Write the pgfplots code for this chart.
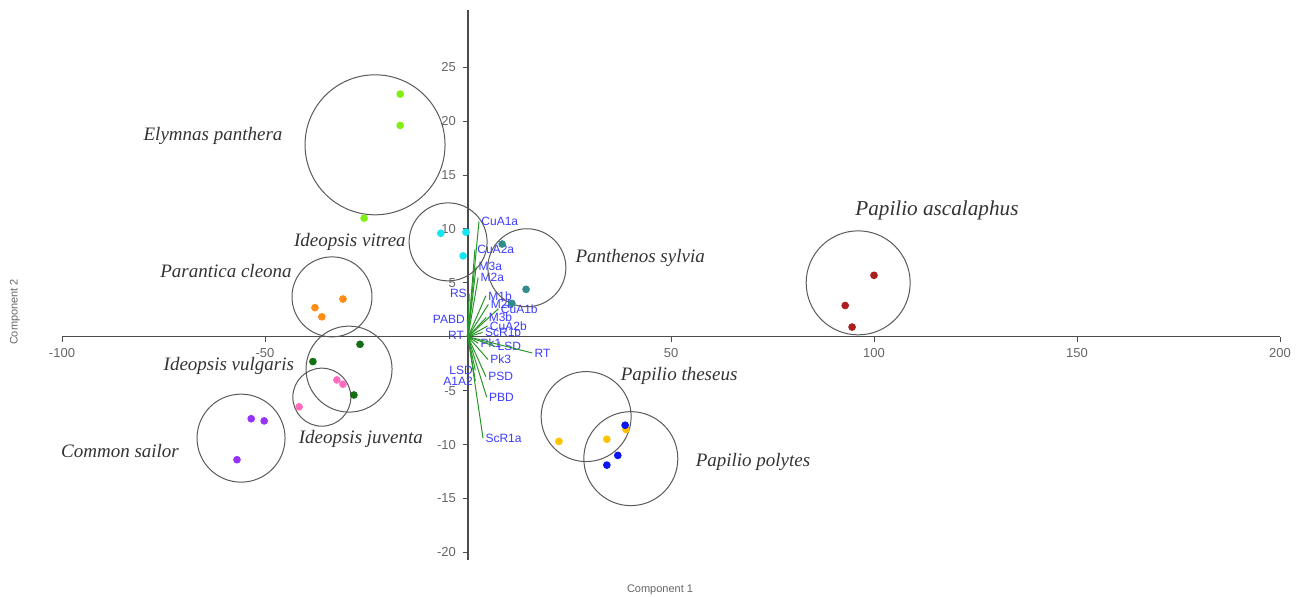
\documentclass[border=0pt]{standalone}
\usepackage{pgfplots}
\pgfplotsset{compat=1.18}
\usepackage{fontspec}
\setmainfont{Liberation Sans}
\newfontfamily\spfont{Liberation Serif}
\usetikzlibrary{calc}
\definecolor{cLime}{RGB}{128,240,20}
\definecolor{cCyan}{RGB}{20,230,240}
\definecolor{cTeal}{RGB}{50,140,140}
\definecolor{cOrange}{RGB}{255,140,20}
\definecolor{cDkGreen}{RGB}{20,110,20}
\definecolor{cPink}{RGB}{255,110,190}
\definecolor{cPurple}{RGB}{150,50,250}
\definecolor{cGold}{RGB}{255,195,0}
\definecolor{cBlue}{RGB}{10,20,245}
\definecolor{cRed}{RGB}{170,30,30}
\definecolor{vecGreen}{RGB}{40,150,40}
\definecolor{vecBlue}{RGB}{60,60,255}
\tikzset{
  vec/.style={vecGreen, line width=0.5pt},
  vl/.style={text=vecBlue, font=\fontsize{6}{6}\selectfont, inner sep=1pt},
  sp/.style={text=black!80, font=\spfont\itshape\fontsize{9.5}{10}\selectfont},
  circ/.style={only marks, mark=o, mark options={black!65, line width=0.5pt}},
  pt/.style={only marks, mark=*, mark size=1.7pt},
}
\begin{document}
\begin{tikzpicture}
\begin{axis}[name=ax, scale only axis, width=609pt, height=275pt,
  xmin=-100, xmax=200, ymin=-20.7, ymax=30.3,
  axis lines=middle, axis line style={-, black!70, line width=0.7pt},
  xtick={-100,-50,50,100,150,200}, ytick={-20,-15,-10,-5,5,10,15,20,25},
  tick align=outside, major tick length=2.5pt,
  tick style={black!70, line width=0.5pt},
  ticklabel style={font=\fontsize{6.5}{7}\selectfont, text=black!60},
  /pgf/number format/assume math mode=true,
  clip=false,
]
% circles
\addplot[circ, mark size=35pt] coordinates {(-22.9,17.8)};
\addplot[circ, mark size=19.5pt] coordinates {(-4.9,8.8)};
\addplot[circ, mark size=19.5pt] coordinates {(14.5,6.4)};
\addplot[circ, mark size=20pt] coordinates {(-33.5,3.7)};
\addplot[circ, mark size=21.5pt] coordinates {(-29.3,-3.0)};
\addplot[circ, mark size=14.5pt] coordinates {(-36.0,-5.6)};
\addplot[circ, mark size=22pt] coordinates {(-55.9,-9.4)};
\addplot[circ, mark size=22.5pt] coordinates {(29.1,-7.4)};
\addplot[circ, mark size=23.5pt] coordinates {(40.1,-11.3)};
\addplot[circ, mark size=26pt] coordinates {(96.1,5.0)};
% loading vectors
\addplot[vec] coordinates {(0,0) (2.7,10.7)} node[vl, anchor=west] {CuA1a};
\addplot[vec] coordinates {(0,0) (1.7,8.1)} node[vl, anchor=west] {CuA2a};
\addplot[vec] coordinates {(0,0) (2.0,6.5)} node[vl, anchor=west] {M3a};
\addplot[vec] coordinates {(0,0) (2.5,5.5)} node[vl, anchor=west] {M2a};
\addplot[vec] coordinates {(0,0) (0.3,4.0)} node[vl, anchor=east] {RS};
\addplot[vec] coordinates {(0,0) (4.4,3.8)} node[vl, anchor=west] {M1b};
\addplot[vec] coordinates {(0,0) (5.0,3.0)} node[vl, anchor=west] {M2b};
\addplot[vec] coordinates {(0,0) (7.5,2.6)} node[vl, anchor=west] {CuA1b};
\addplot[vec] coordinates {(0,0) (4.5,1.8)} node[vl, anchor=west] {M3b};
\addplot[vec] coordinates {(0,0) (4.8,1.0)} node[vl, anchor=west] {CuA2b};
\addplot[vec] coordinates {(0,0) (3.6,0.4)} node[vl, anchor=west] {ScR1b};
\addplot[vec] coordinates {(0,0) (-0.2,1.6)} node[vl, anchor=east] {PABD};
\addplot[vec] coordinates {(0,0) (-0.4,0.1)} node[vl, anchor=east] {RT};
\addplot[vec] coordinates {(0,0) (2.5,-0.6)} node[vl, anchor=west] {Pk1};
\addplot[vec] coordinates {(0,0) (6.7,-0.9)} node[vl, anchor=west] {LSD};
\addplot[vec] coordinates {(0,0) (15.8,-1.5)} node[vl, anchor=west] {RT};
\addplot[vec] coordinates {(0,0) (4.9,-2.1)} node[vl, anchor=west] {Pk3};
\addplot[vec] coordinates {(0,0) (4.4,-3.7)} node[vl, anchor=west] {PSD};
\addplot[vec] coordinates {(0,0) (1.8,-3.1)} node[vl, anchor=east] {LSD};
\addplot[vec] coordinates {(0,0) (1.8,-4.1)} node[vl, anchor=east] {A1A2};
\addplot[vec] coordinates {(0,0) (4.6,-5.6)} node[vl, anchor=west] {PBD};
\addplot[vec] coordinates {(0,0) (3.7,-9.4)} node[vl, anchor=west] {ScR1a};
% species points
\addplot[pt, color=cLime] coordinates {(-16.7,22.5) (-16.7,19.6) (-25.6,11.0)};
\addplot[pt, color=cCyan] coordinates {(-6.7,9.6) (-0.5,9.7) (-1.2,7.5)};
\addplot[pt, color=cTeal] coordinates {(14.3,4.4) (8.4,8.6) (10.8,3.1)};
\addplot[pt, color=cOrange] coordinates {(-37.7,2.7) (-36.0,1.85) (-30.8,3.5)};
\addplot[pt, color=cDkGreen] coordinates {(-26.6,-0.7) (-38.2,-2.3) (-28.1,-5.4)};
\addplot[pt, color=cPink] coordinates {(-32.3,-4.0) (-30.8,-4.4) (-41.6,-6.5)};
\addplot[pt, color=cPurple] coordinates {(-53.4,-7.6) (-50.2,-7.8) (-56.9,-11.4)};
\addplot[pt, color=cGold] coordinates {(22.4,-9.7) (34.2,-9.5) (38.9,-8.6)};
\addplot[pt, color=cBlue] coordinates {(38.7,-8.2) (36.9,-11.0) (34.2,-11.9)};
\addplot[pt, color=cRed] coordinates {(100.0,5.7) (92.9,2.9) (94.6,0.9)};
% species labels
\node[sp] at (axis cs:-62.8,18.6) {Elymnas panthera};
\node[sp] at (axis cs:-29.1,8.8) {Ideopsis vitrea};
\node[sp] at (axis cs:42.4,7.3) {Panthenos sylvia};
\node[sp, font=\spfont\itshape\fontsize{10.6}{11}\selectfont] at (axis cs:115.5,11.7) {Papilio ascalaphus};
\node[sp] at (axis cs:-59.6,6.1) {Parantica cleona};
\node[sp] at (axis cs:-58.9,-2.7) {Ideopsis vulgaris};
\node[sp] at (axis cs:52.0,-3.6) {Papilio theseus};
\node[sp] at (axis cs:-26.4,-9.5) {Ideopsis juventa};
\node[sp] at (axis cs:-85.7,-10.6) {Common sailor};
\node[sp] at (axis cs:70.2,-11.6) {Papilio polytes};
% axis titles
\node[rotate=90, text=black!60, font=\fontsize{5.5}{6}\selectfont] at (rel axis cs:-0.0386,0.451) {Component 2};
\node[text=black!60, font=\fontsize{5.5}{6}\selectfont] at (rel axis cs:0.491,-0.0545) {Component 1};
\end{axis}
\pgfresetboundingbox
\path[use as bounding box] ($(ax.south west)+(-31pt,-18pt)$) rectangle ($(ax.north east)+(9pt,5pt)$);
\end{tikzpicture}
\end{document}
